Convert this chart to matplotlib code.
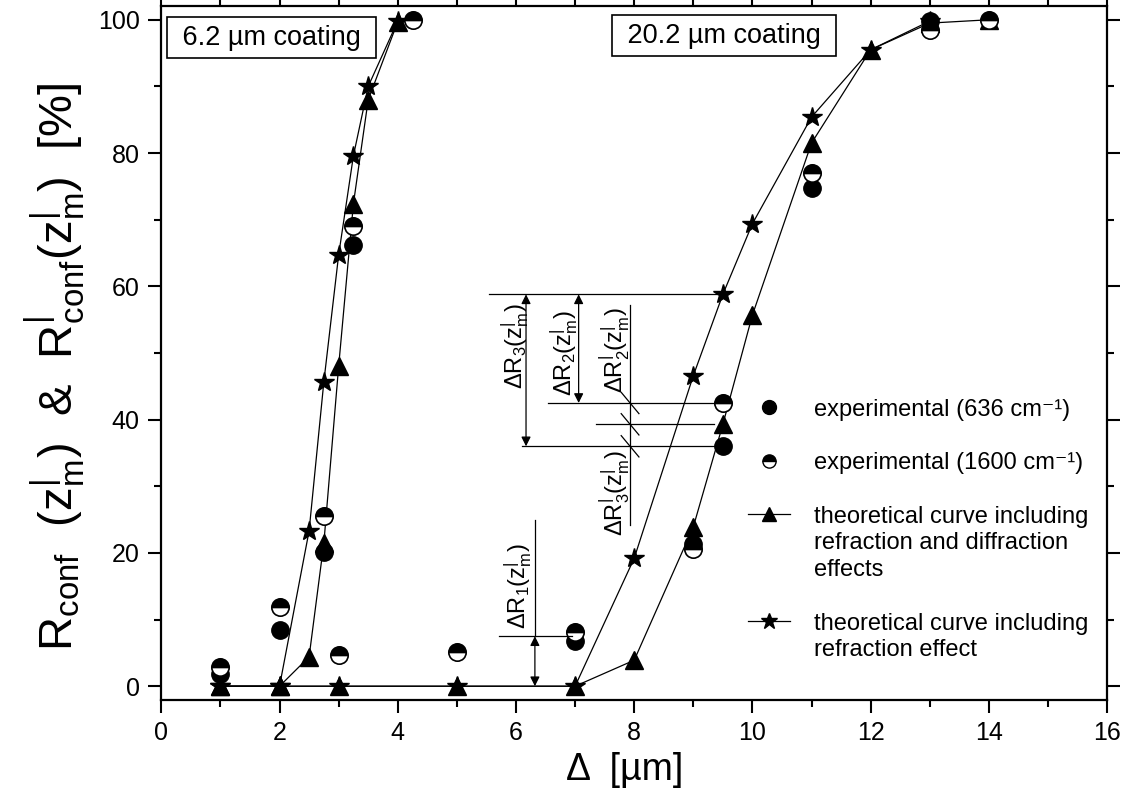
import numpy as np
import matplotlib
matplotlib.use("Agg")
import matplotlib.pyplot as plt
from matplotlib.lines import Line2D
from matplotlib.ticker import MultipleLocator

plt.rcParams["font.family"] = ["Liberation Sans", "DejaVu Sans"]
plt.rcParams["mathtext.fontset"] = "custom"
plt.rcParams["mathtext.rm"] = "Liberation Sans"
plt.rcParams["mathtext.it"] = "Liberation Sans"
plt.rcParams["mathtext.bf"] = "Liberation Sans:bold"

# 6.2 um coating: theoretical curves
x_thin = [1, 2, 2.5, 2.75, 3, 3.25, 3.5, 4]
tri_thin = [0, 0, 4.4, 21.5, 48.0, 72.4, 88.0, 99.7]
star_thin = [0, 0, 23.3, 45.7, 64.7, 79.6, 90.0, 99.8]

# 20.2 um coating: theoretical curves
x_thick_tri = [1, 2, 3, 5, 7, 8, 9, 9.5, 10, 11, 12, 13, 14]
tri_thick = [0, 0, 0, 0, 0, 3.9, 23.9, 39.3, 55.7, 81.5, 95.5, 99.5, 100]
x_thick_star = [1, 2, 3, 5, 7, 8, 9, 9.5, 10, 11, 12, 13]
star_thick = [0, 0, 0, 0, 0, 19.2, 46.6, 58.8, 69.4, 85.4, 95.5, 99.8]

# experimental points
x_exp636 = [1, 2, 2.75, 3.25, 7, 9, 9.5, 11, 13]
y_exp636 = [1.8, 8.4, 20.1, 66.2, 6.8, 21.3, 36.0, 74.8, 99.8]
x_exp1600 = [1, 2, 2.75, 3, 3.25, 4.25, 5, 7, 9, 9.5, 11, 13, 14]
y_exp1600 = [2.9, 11.9, 25.5, 4.7, 69.0, 100, 5.2, 8.2, 20.6, 42.5, 77.0, 98.5, 100]

legend_labels = [
    "experimental (636 cm⁻¹)",
    "experimental (1600 cm⁻¹)",
    "theoretical curve including",
    "refraction and diffraction",
    "effects",
    "theoretical curve including",
    "refraction effect",
]

zl = "(z$^{\\rm |}_{\\rm m}$)"


def main():
    fig = plt.figure(figsize=(11.32, 8.05), dpi=100)
    ax = fig.add_axes([0.1425, 0.131, 0.8355, 0.861])

    line_kw = dict(color="black", lw=0.9)
    ax.plot(x_thin, tri_thin, marker="^", ms=13, mfc="black", mec="black", **line_kw)
    ax.plot(x_thin, star_thin, marker="*", ms=15, mfc="black", mec="black", **line_kw)
    ax.plot(x_thick_tri, tri_thick, marker="^", ms=13, mfc="black", mec="black", **line_kw)
    ax.plot(x_thick_star, star_thick, marker="*", ms=15, mfc="black", mec="black", **line_kw)

    ax.plot(x_exp636, y_exp636, ls="none", marker="o", ms=12.5, mfc="black", mec="black")
    ax.plot(x_exp1600, y_exp1600, ls="none", marker="o", ms=12.5, fillstyle="top",
            mfc="black", mfcalt="white", mec="black", mew=1.2)

    # annotation of the differences at 9.5 um
    i_star = x_thick_star.index(9.5)
    i_tri = x_thick_tri.index(9.5)
    y_top = star_thick[i_star]
    y_half = y_exp1600[x_exp1600.index(9.5)]
    y_full = y_exp636[x_exp636.index(9.5)]
    y_tri = tri_thick[i_tri]

    ann = dict(color="black", lw=0.9)
    ax.plot([5.55, 9.4], [y_top, y_top], **ann)
    ax.plot([6.1, 9.35], [y_full, y_full], **ann)
    ax.plot([6.54, 9.35], [y_half, y_half], **ann)
    ax.plot([7.36, 9.35], [y_tri, y_tri], **ann)
    ax.plot([7.93, 7.93], [57.2, 24.2], **ann)
    for yy in (y_half, y_tri, y_full):
        ax.plot([7.78, 8.08], [yy + 1.6, yy - 1.6], **ann)

    arrow = dict(arrowstyle="<|-|>", color="black", lw=0.9,
                 mutation_scale=14, shrinkA=0, shrinkB=0)
    ax.annotate("", xy=(6.17, y_full), xytext=(6.17, y_top), arrowprops=arrow)
    ax.annotate("", xy=(7.06, y_half), xytext=(7.06, y_top), arrowprops=arrow)

    # delta R1 at 7 um
    y_r1 = (y_exp636[x_exp636.index(7)] + y_exp1600[x_exp1600.index(7)]) / 2
    ax.plot([6.32, 6.32], [y_r1, 24.9], **ann)
    ax.plot([5.72, 6.95], [y_r1, y_r1], **ann)
    ax.annotate("", xy=(6.32, 0), xytext=(6.32, y_r1), arrowprops=arrow)

    lab_kw = dict(rotation=90, ha="center", va="center", fontsize=17)
    ax.text(5.98, 51, "$\\Delta$R$_{\\rm 3}$" + zl, **lab_kw)
    ax.text(6.82, 50, "$\\Delta$R$_{\\rm 2}$" + zl, **lab_kw)
    ax.text(7.67, 50.5, "$\\Delta$R$^{\\rm |}_{\\rm 2}$" + zl, **lab_kw)
    ax.text(7.67, 29, "$\\Delta$R$^{\\rm |}_{\\rm 3}$" + zl, **lab_kw)
    ax.text(6.03, 15, "$\\Delta$R$_{\\rm 1}$" + zl, **lab_kw)

    box = dict(boxstyle="square,pad=0.28", fc="white", ec="black", lw=1.2)
    ax.text(1.86, 97.3, " 6.2 µm coating ", ha="center", va="center", fontsize=19.5, bbox=box)
    ax.text(9.52, 97.6, " 20.2 µm coating ", ha="center", va="center", fontsize=19.5, bbox=box)

    # legend
    blank = Line2D([], [], ls="none")
    handles = [
        Line2D([], [], ls="none", marker="o", ms=10, mfc="black", mec="black"),
        blank,
        Line2D([], [], ls="none", marker="o", ms=9.5, fillstyle="top", mfc="black",
               mfcalt="white", mec="black"),
        blank,
        Line2D([], [], color="black", lw=0.9, marker="^", ms=10),
        blank,
        blank,
        blank,
        Line2D([], [], color="black", lw=0.9, marker="*", ms=12),
        blank,
    ]
    labels = [legend_labels[0], " ", legend_labels[1], " ", legend_labels[2],
              legend_labels[3], legend_labels[4], " ", legend_labels[5], legend_labels[6]]
    ax.legend(handles, labels, loc="upper left", bbox_to_anchor=(0.62, 0.434),
              frameon=False, fontsize=17, handlelength=1.8, handletextpad=1.0,
              labelspacing=0.2, borderpad=0, borderaxespad=0)

    ax.set_xlim(0, 16)
    ax.set_ylim(-2, 102)
    ax.xaxis.set_major_locator(MultipleLocator(2))
    ax.xaxis.set_minor_locator(MultipleLocator(1))
    ax.yaxis.set_major_locator(MultipleLocator(20))
    ax.yaxis.set_minor_locator(MultipleLocator(10))
    ax.tick_params(which="both", direction="out", width=1.5, labelsize=18,
                   top=True, right=True)
    ax.tick_params(which="major", length=9.5, pad=6)
    ax.tick_params(which="minor", length=4.8)
    for spine in ax.spines.values():
        spine.set_linewidth(1.6)

    ax.set_xlabel("Δ  [µm]", fontsize=27)
    ax.xaxis.set_label_coords(0.49, -0.075)
    ax.set_ylabel("R$_{\\rm conf}$  (z$^{\\rm |}_{\\rm m}$)  &  R$^{\\rm |}_{\\rm conf}$"
                  "(z$^{\\rm |}_{\\rm m}$)  [%]", fontsize=34)
    ax.yaxis.set_label_coords(-0.079, 0.48)

    fig.savefig("out.png", dpi=100)
    plt.close(fig)


if __name__ == "__main__":
    main()
